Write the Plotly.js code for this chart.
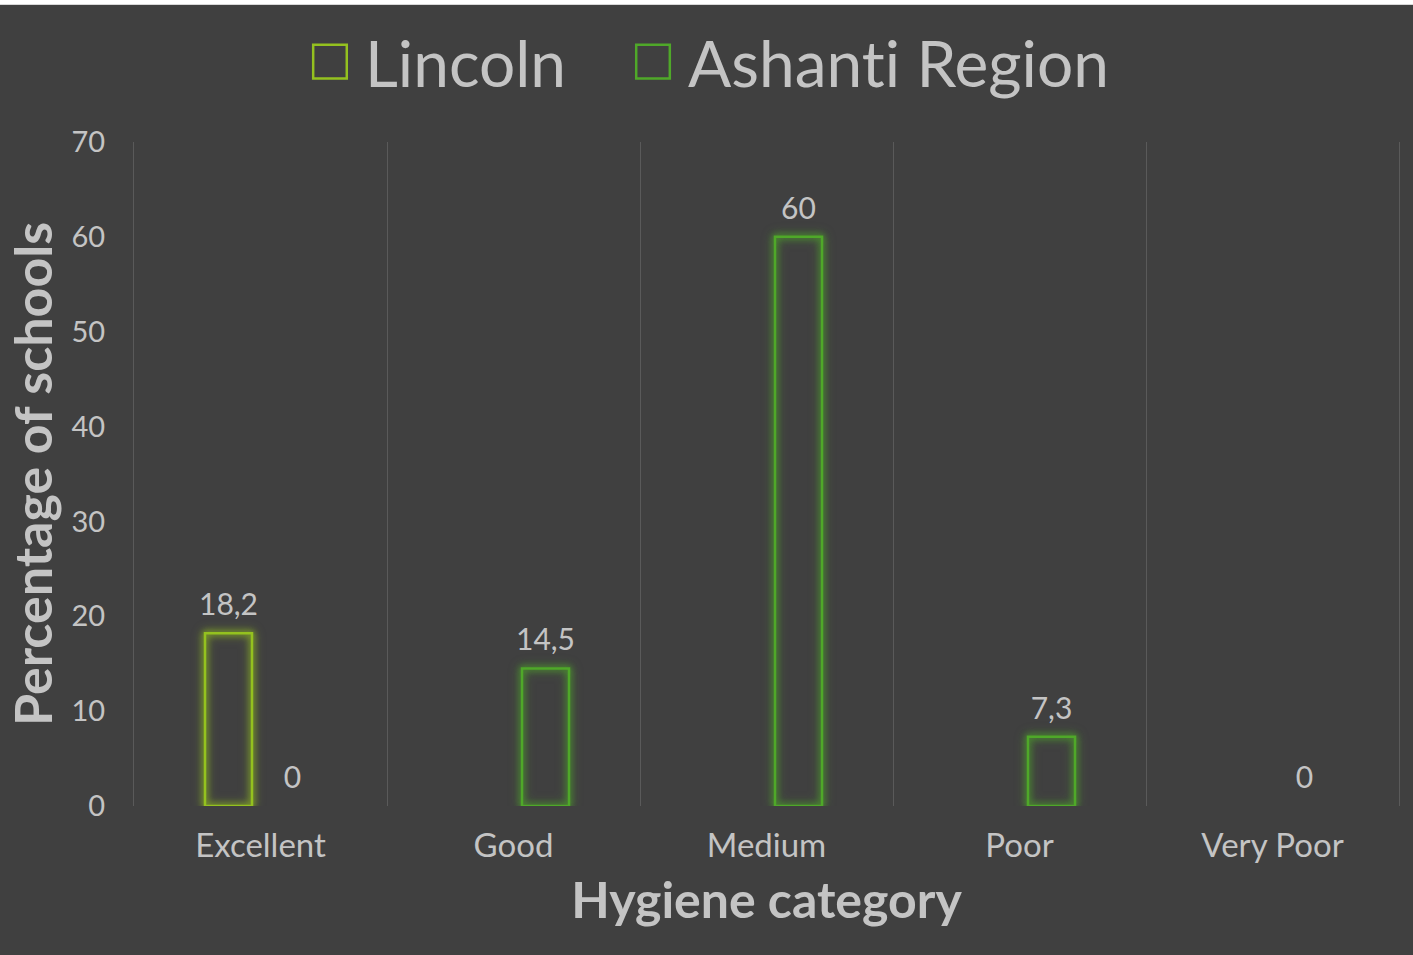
<!DOCTYPE html>
<html>
<head>
<meta charset="utf-8">
<script src="https://cdn.plot.ly/plotly-3.0.1.min.js"></script>
<style>
  html, body { margin: 0; padding: 0; background: #ffffff; }
  #wrap { position: absolute; left: 0; top: 0; width: 1413px; height: 955px; background: #ffffff; }
  #chart { position: absolute; left: 0; top: 4px; width: 1413px; height: 951px; border-top: 1px solid #d8d8d8; }
  #chart text {
    font-variant-ligatures: none !important;
    font-feature-settings: "liga" 0, "clig" 0, "dlig" 0 !important;
  }
  #chart .legendpoints path {
    transform: translate(82px, 0px) scale(2.8);
    vector-effect: non-scaling-stroke;
    stroke-width: 2.5px !important;
  }
  #chart .legend g.traces:nth-child(1) .legendpoints path { stroke: #94c11f !important; }
  #chart .legend g.traces:nth-child(2) .legendpoints path { stroke: #4fa829 !important; }
  #chart .bartext { translate: 0px -9px; }
  #chart .barlayer .trace:nth-child(1) .point path {
    filter: drop-shadow(0 0 3px rgba(148,193,31,1)) drop-shadow(0 0 4px rgba(148,193,31,0.6));
  }
  #chart .barlayer .trace:nth-child(2) .point path {
    filter: drop-shadow(0 0 3px rgba(79,168,41,1)) drop-shadow(0 0 4px rgba(79,168,41,0.6));
  }
</style>
</head>
<body>
<div id="wrap"><div id="chart"></div></div>
<script>
  const categories = ['Excellent', 'Good', 'Medium', 'Poor', 'Very Poor'];
  const lincolnValues = [18.2, null, null, null, null];
  const ashantiValues = [0, 14.5, 60, 7.3, 0];
  const seriesNames = ['Lincoln', 'Ashanti Region'];
  const yTicks = [0, 10, 20, 30, 40, 50, 60, 70];

  const fmt = v => (v === null || v === undefined) ? '' : String(v).replace('.', ',');

  const FONT = 'Lato, "Open Sans", sans-serif';
  const TEXT = '#c4c4c4';

  const mk = (name, vals, color) => ({
    type: 'bar',
    name: name,
    x: categories,
    y: vals,
    text: vals.map(fmt),
    textposition: 'outside',
    constraintext: 'none',
    cliponaxis: false,
    textfont: { family: FONT, size: 30, color: TEXT },
    marker: {
      color: 'rgba(0,0,0,0)',
      line: { color: color, width: vals.map(v => v ? 2.5 : 0) }
    },
    hoverinfo: 'skip'
  });

  const data = [
    mk(seriesNames[0], lincolnValues, '#94c11f'),
    mk(seriesNames[1], ashantiValues, '#4fa829')
  ];

  const layout = {
    width: 1413,
    height: 951,
    paper_bgcolor: '#404040',
    plot_bgcolor: '#404040',
    font: { family: FONT, color: TEXT },
    margin: { l: 134, r: 14, t: 137, b: 150 },
    barmode: 'group',
    bargap: 0.494,
    bargroupgap: 0.266,
    showlegend: true,
    legend: {
      orientation: 'h',
      xref: 'container', yref: 'container',
      x: 0.1755, xanchor: 'left',
      y: 0.991, yanchor: 'top',
      font: { family: FONT, size: 64, color: TEXT },
      itemwidth: 107,
      bgcolor: 'rgba(0,0,0,0)'
    },
    xaxis: {
      type: 'category',
      tickson: 'boundaries',
      showgrid: true,
      gridcolor: '#5a5a5a',
      gridwidth: 1,
      ticks: '',
      showline: false,
      zeroline: false,
      tickfont: { family: FONT, size: 33, color: TEXT },
      ticklabelstandoff: 17,
      title: { text: 'Hygiene category', font: { family: FONT, size: 50, color: TEXT, weight: 'bold' }, standoff: 19 }
    },
    yaxis: {
      range: [0, 70],
      tickvals: yTicks,
      ticktext: yTicks.map(String),
      showgrid: false,
      zeroline: false,
      showline: true,
      linecolor: '#5a5a5a',
      linewidth: 1,
      mirror: true,
      ticks: '',
      tickfont: { family: FONT, size: 29, color: TEXT },
      ticklabelstandoff: 22,
      title: { text: 'Percentage of schools', font: { family: FONT, size: 52, color: TEXT, weight: 'bold' }, standoff: 2 }
    }
  };

  Plotly.newPlot('chart', data, layout, { displayModeBar: false, staticPlot: true });
</script>
</body>
</html>
